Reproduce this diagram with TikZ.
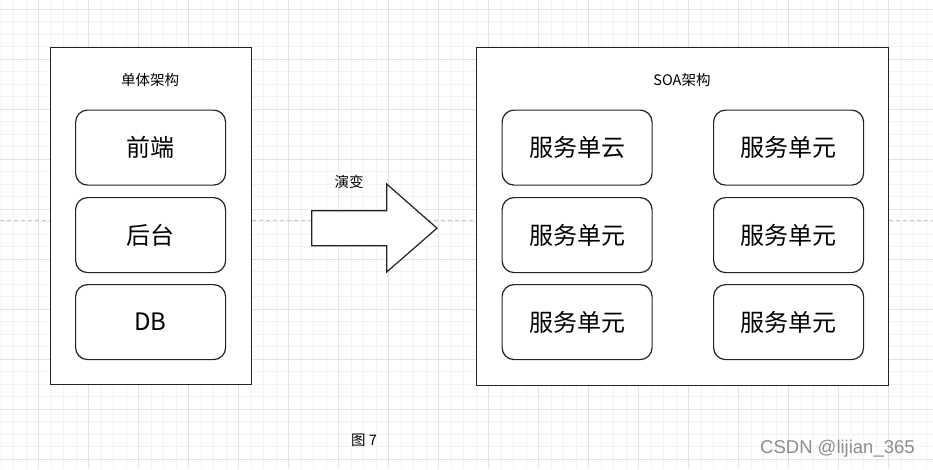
\documentclass[tikz,border=0pt]{standalone}
\usepackage{fontspec}
\setmainfont{Noto Sans CJK SC}
\newfontfamily\wmfont{Liberation Sans}
\definecolor{gridminor}{HTML}{F2F2F2}
\definecolor{gridmajor}{HTML}{E2E2E2}
\definecolor{dashgray}{HTML}{C4C4C4}
\definecolor{boxline}{HTML}{222222}
\begin{document}
\begin{tikzpicture}[x=1pt,y=-1pt,
  outerbox/.style={draw=boxline,line width=1.3pt,fill=white,minimum width=#1,inner sep=0pt,anchor=north west},
  unitbox/.style={draw=boxline,line width=1.2pt,fill=white,rounded corners=12pt,minimum width=150pt,minimum height=75pt,inner sep=0pt,anchor=north west,font=\fontsize{24}{26}\selectfont},
  titletext/.style={font=\fontsize{14.5}{16}\selectfont,inner sep=0pt},
]
\useasboundingbox (0,0) rectangle (933,469);
\fill[white] (0,0) rectangle (933,469);
% grid
\foreach \i in {0,...,74} {
  \draw[gridminor,line width=0.6pt] ({0.83+12.5*\i},0) -- ({0.83+12.5*\i},469);
}
\foreach \j in {0,...,37} {
  \draw[gridminor,line width=0.6pt] (0,{9+12.5*\j}) -- (933,{9+12.5*\j});
}
\foreach \i in {0,...,18} {
  \draw[gridmajor,line width=0.7pt] ({38.33+50*\i},0) -- ({38.33+50*\i},469);
}
\foreach \j in {0,...,9} {
  \draw[gridmajor,line width=0.7pt] (0,{9+50*\j}) -- (933,{9+50*\j});
}
% dashed line
\draw[dashgray,line width=0.9pt,dash pattern=on 4pt off 3pt] (0,220.5) -- (933,220.5);

% left outer box
\node[outerbox=201pt,minimum height=337pt] (mono) at (49.5,47) {};
\node[titletext] (monotitle) at (150,80) {单体架构};
\node[unitbox] (fe) at (75,109.5) {前端};
\node[unitbox] (be) at (75,197) {后台};
\node[unitbox] (db) at (75,284) {DB};

% arrow
\coordinate (a1) at (311.7,210.7);
\coordinate (a2) at (386.7,210.7);
\coordinate (a3) at (386.7,184);
\coordinate (a4) at (437,228.2);
\coordinate (a5) at (386.7,272);
\coordinate (a6) at (386.7,245.7);
\coordinate (a7) at (311.7,245.7);
\draw[boxline,line width=1.2pt,fill=white,line join=miter] (a1) -- (a2) -- (a3) -- (a4) -- (a5) -- (a6) -- (a7) -- cycle;
\node[titletext] (evolve) at (349,182) {演变};

% right outer box
\node[outerbox=412pt,minimum height=338pt] (soa) at (476,46.5) {};
\node[titletext] (soatitle) at (682,80) {SOA架构};
\node[unitbox] (s1) at (501.5,109.5) {服务单云};
\node[unitbox] (s2) at (501.5,197) {服务单元};
\node[unitbox] (s3) at (501.5,284) {服务单元};
\node[unitbox] (s4) at (713,109.5) {服务单元};
\node[unitbox] (s5) at (713,197) {服务单元};
\node[unitbox] (s6) at (713,284) {服务单元};

% caption
\node[titletext] (caption) at (364,440) {图 7};
% watermark
\node[inner sep=0pt,text=black!45,font=\wmfont\fontsize{18.5}{20}\selectfont,anchor=west] (wm) at (760,449) {CSDN @lijian\_365};
\end{tikzpicture}
\end{document}
